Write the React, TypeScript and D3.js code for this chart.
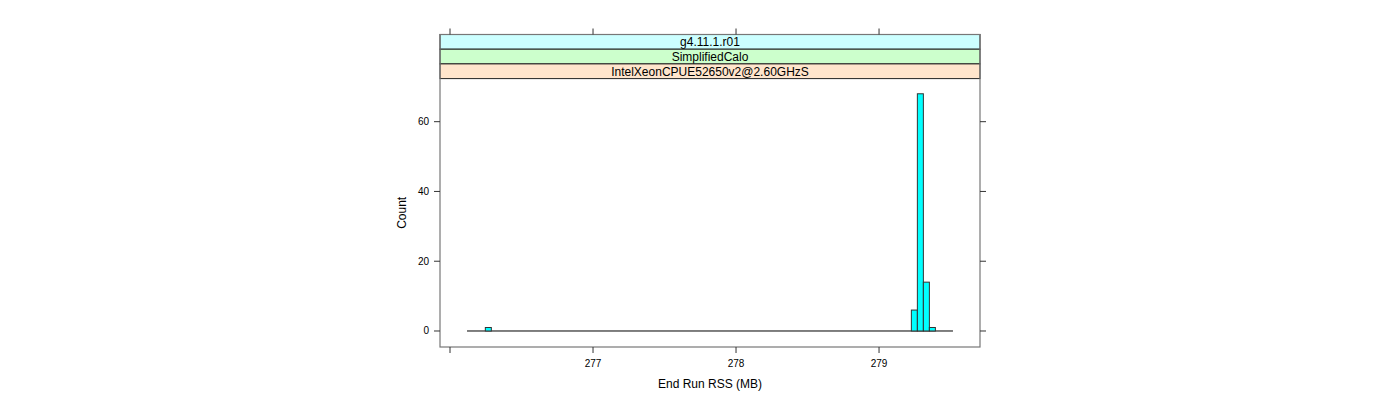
import React from "react";
import * as d3 from "d3";

const binStarts = [276.247, 279.226, 279.268, 279.31, 279.352];
const binWidth = 0.042;
const counts = [1, 6, 68, 14, 1];
const xTicks = [276, 277, 278, 279];
const xTickLabels = ["", "277", "278", "279"];
const yTicks = [0, 20, 40, 60];
const baselineRange = [276.119, 279.517];
const stripLabels = ["g4.11.1.r01", "SimplifiedCalo", "IntelXeonCPUE52650v2@2.60GHzS"];
const stripColors = ["#ccffff", "#ccffcc", "#ffe5cc"];

export default function App() {
  const left = 440, right = 980;
  const stripTop = 34.5, stripH = 14.7;
  const panelTop = stripTop + stripH * 3, panelBottom = 347;
  const x = d3.scaleLinear().domain([275.93, 279.706]).range([left, right]);
  const y = d3.scaleLinear().domain([-4.59, 72.35]).range([panelBottom, panelTop]);
  const font = "Liberation Sans, Arial, Helvetica, sans-serif";
  const axisCol = "#333";
  return (
    <svg width={1400} height={400} style={{ display: "block", position: "absolute", left: 0, top: 0 }} fontFamily={font}>
      {stripLabels.map((s, i) => (
        <g key={s}>
          <rect x={left} y={stripTop + i * stripH} width={right - left} height={stripH} fill={stripColors[i]} stroke="#222" strokeWidth={1} />
          <text x={(left + right) / 2} y={stripTop + i * stripH + stripH / 2 + 4.3} fontSize={12} textAnchor="middle" fill="#000">{s}</text>
        </g>
      ))}
      <rect x={left} y={stripTop} width={right - left} height={panelBottom - stripTop} fill="none" stroke="#777" strokeWidth={1.2} />
      <line x1={x(baselineRange[0])} x2={x(baselineRange[1])} y1={y(0)} y2={y(0)} stroke="#000" strokeWidth={1} />
      {binStarts.map((b, i) => (
        <rect key={i} x={x(b)} y={y(counts[i])} width={x(b + binWidth) - x(b)} height={y(0) - y(counts[i])} fill="#00ffff" stroke="#333" strokeWidth={1} />
      ))}
      {xTicks.map((t, i) => (
        <g key={t}>
          <line x1={x(t)} x2={x(t)} y1={panelBottom} y2={panelBottom + 6} stroke={axisCol} />
          <line x1={x(t)} x2={x(t)} y1={stripTop} y2={stripTop - 6} stroke={axisCol} />
          <text x={x(t)} y={367} fontSize={10} textAnchor="middle">{xTickLabels[i]}</text>
        </g>
      ))}
      {yTicks.map((t) => (
        <g key={t}>
          <line x1={left - 6} x2={left} y1={y(t)} y2={y(t)} stroke={axisCol} />
          <line x1={right} x2={right + 6} y1={y(t)} y2={y(t)} stroke={axisCol} />
          <text x={429} y={y(t) + 3.5} fontSize={10} textAnchor="end">{t}</text>
        </g>
      ))}
      <text x={710} y={388} fontSize={12} textAnchor="middle">End Run RSS (MB)</text>
      <text transform={`translate(406,${(panelTop + panelBottom) / 2}) rotate(-90)`} fontSize={12} textAnchor="middle">Count</text>
    </svg>
  );
}
